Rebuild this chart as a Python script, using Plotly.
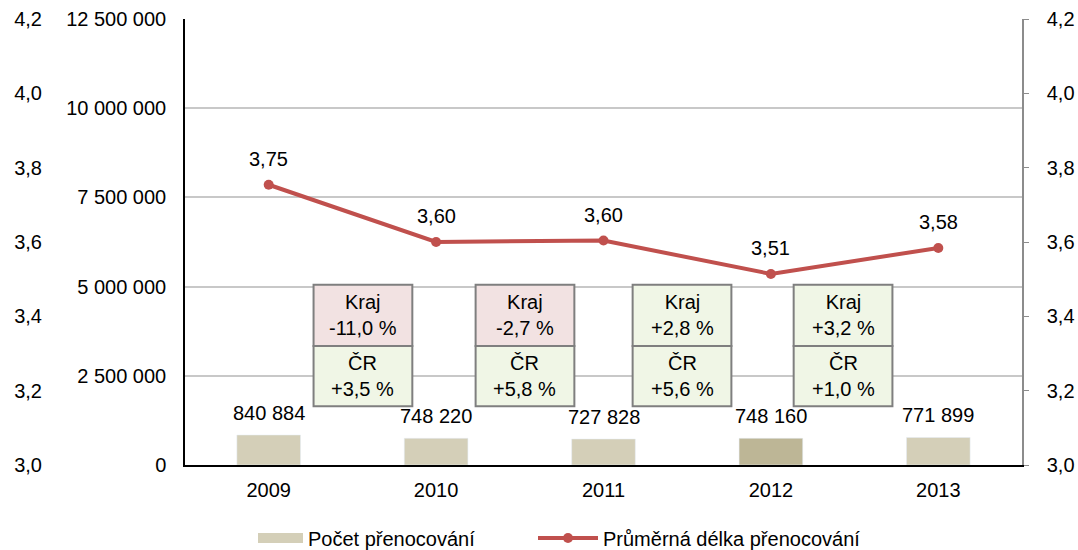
import plotly.graph_objects as go

# Data
years = ['2009', '2010', '2011', '2012', '2013']
pocet = [840884, 748220, 727828, 748160, 771899]
delka = [3.754, 3.600, 3.604, 3.514, 3.584]
bar_colors = ['#D4CFB8', '#D4CFB8', '#D4CFB8', '#BDB696', '#D4CFB8']

# Year-on-year changes shown in boxes between years
kraj_zmena = ['-11,0 %', '-2,7 %', '+2,8 %', '+3,2 %']
cr_zmena = ['+3,5 %', '+5,8 %', '+5,6 %', '+1,0 %']
kraj_barva = ['#F2E2E2', '#F2E2E2', '#F0F6E6', '#F0F6E6']
cr_barva = ['#F0F6E6', '#F0F6E6', '#F0F6E6', '#F0F6E6']

font = 'Liberation Sans, Arial, sans-serif'
fs = 20

W, H = 1078, 550
ml, mr, mt, mb = 42, 56, 19, 85
plot_left = 185

fig = go.Figure()

fig.add_trace(go.Bar(
    x=years, y=pocet,
    marker=dict(color=bar_colors),
    width=0.38,
    showlegend=False,
    yaxis='y'
))

# legend-only entry so the bar swatch is a wide rectangle like the original
fig.add_trace(go.Scatter(
    x=[None], y=[None], mode='lines',
    line=dict(color='#D4CFB8', width=11),
    name='Počet přenocování',
    legend='legend'
))

fig.add_trace(go.Scatter(
    x=years, y=delka,
    mode='lines+markers',
    line=dict(color='#C0504D', width=4),
    marker=dict(color='#C0504D', size=10),
    name='Průměrná délka přenocování',
    yaxis='y2',
    legend='legend2'
))

# invisible trace so the outer left axis gets drawn
fig.add_trace(go.Scatter(
    x=years, y=delka, mode='markers', marker=dict(opacity=0),
    showlegend=False, hoverinfo='skip', yaxis='y3'
))

# Value labels (category index used for x)
for i, v in enumerate(pocet):
    fig.add_annotation(x=i, y=v, xref='x', yref='y',
                       text=f'{v:,}'.replace(',', '\u00a0'),
                       showarrow=False, yshift=22, font=dict(size=fs, color='#000'))
for i, v in enumerate(delka):
    fig.add_annotation(x=i, y=v, xref='x', yref='y2',
                       text=f'{v:.2f}'.replace('.', ','),
                       showarrow=False, yshift=26, font=dict(size=fs, color='#000'))

# Boxes between years
box_cx = [0.563, 1.531, 2.469, 3.431]
box_w = 0.59
y_top, y_mid, y_bot = 0.404, 0.267, 0.132
for cx, k, c, kb, cb in zip(box_cx, kraj_zmena, cr_zmena, kraj_barva, cr_barva):
    fig.add_shape(type='rect', xref='x', yref='paper',
                  x0=cx - box_w / 2, x1=cx + box_w / 2, y0=y_mid, y1=y_top,
                  fillcolor=kb, line=dict(color='#7F7F7F', width=2))
    fig.add_shape(type='rect', xref='x', yref='paper',
                  x0=cx - box_w / 2, x1=cx + box_w / 2, y0=y_bot, y1=y_mid,
                  fillcolor=cb, line=dict(color='#7F7F7F', width=2))
    fig.add_annotation(x=cx, y=(y_top + y_mid) / 2, xref='x', yref='paper',
                       xanchor='center', yanchor='middle',
                       text=f'Kraj<br>{k}', showarrow=False,
                       font=dict(size=fs, color='#000'))
    fig.add_annotation(x=cx, y=(y_mid + y_bot) / 2, xref='x', yref='paper',
                       xanchor='center', yanchor='middle',
                       text=f'ČR<br>{c}', showarrow=False,
                       font=dict(size=fs, color='#000'))

fig.update_layout(
    width=W, height=H,
    margin=dict(l=ml, r=mr, t=mt, b=mb, autoexpand=False),
    plot_bgcolor='white', paper_bgcolor='white',
    separators=', ',
    font=dict(family=font, size=fs, color='#000'),
    xaxis=dict(domain=[(plot_left - ml) / (W - ml - mr), 1],
               type='category', range=[-0.5, 4.5],
               showline=True, linecolor='#000', linewidth=1.5,
               ticks='', showgrid=False, tickfont=dict(size=fs),
               ticklabelstandoff=6),
    yaxis=dict(range=[0, 12500000], dtick=2500000, tickformat=',d',
               showgrid=True, gridcolor='#C8C8C8', gridwidth=1.5,
               showline=True, linecolor='#000', linewidth=1.5,
               ticks='', ticklabelstandoff=13, zeroline=False),
    yaxis2=dict(range=[3.0, 4.2], dtick=0.2, tickformat='.1f',
                overlaying='y', side='right', showgrid=False,
                showline=True, linecolor='#8C8C8C', linewidth=1.5,
                ticks='outside', ticklen=5, tickcolor='#8C8C8C',
                ticklabelstandoff=14, zeroline=False),
    yaxis3=dict(range=[3.0, 4.2], dtick=0.2, tickformat='.1f',
                overlaying='y', side='left', anchor='free', position=0,
                showgrid=False, showline=False, ticks='', zeroline=False),
    legend=dict(orientation='h', xref='container', x=253 / W, xanchor='left',
                yref='container', y=12 / H, yanchor='middle',
                font=dict(size=fs), itemwidth=45),
    legend2=dict(orientation='h', xref='container', x=533 / W, xanchor='left',
                 yref='container', y=12 / H, yanchor='middle',
                 font=dict(size=fs), itemwidth=60),
    showlegend=True
)

# drop the default 8px page margin so the chart fills the window exactly
fig.write_html('out.html', config={'displayModeBar': False},
               post_script="document.body.style.margin='0';")
